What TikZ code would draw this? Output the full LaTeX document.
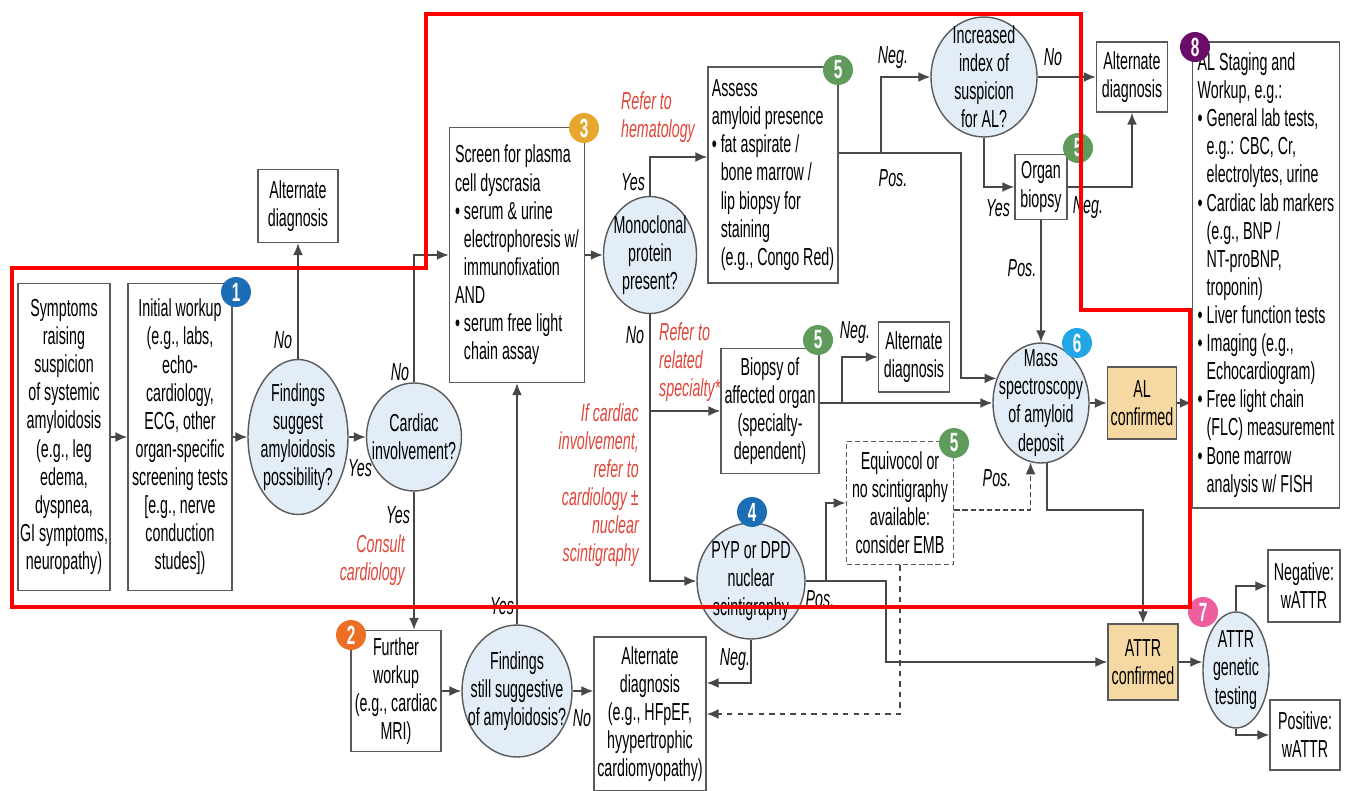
\documentclass[tikz,border=0pt]{standalone}
\usepackage{fontspec}
\setmainfont{Liberation Sans}[FakeStretch=0.58]
\usetikzlibrary{arrows.meta,shapes.geometric,calc}
\definecolor{edgegray}{HTML}{5A5A5A}
\definecolor{arrowgray}{HTML}{474747}
\definecolor{qblue}{HTML}{E3EDF7}
\definecolor{conftan}{HTML}{F6D9A2}
\definecolor{notered}{HTML}{E0453A}
\definecolor{framered}{HTML}{FF0000}
\definecolor{bdgblue}{HTML}{1B6DB6}
\definecolor{bdgorange}{HTML}{EC6F25}
\definecolor{bdggold}{HTML}{E5A82E}
\definecolor{bdggreen}{HTML}{5F9C5C}
\definecolor{bdgsky}{HTML}{22A6E4}
\definecolor{bdgpink}{HTML}{EC5E9E}
\definecolor{bdgpurple}{HTML}{6A0D69}
\newcommand{\bul}{\textbullet\ }
\newcommand{\ind}{\phantom{\textbullet\ }}

\begin{document}
\begin{tikzpicture}[x=0.02cm,y=-0.02cm,font=\fontsize{14}{16}\selectfont,
   box/.style={draw=edgegray,line width=0.8pt,fill=white,align=center,inner xsep=1pt,inner ysep=0.5pt},
   qell/.style={ellipse,draw=edgegray,line width=0.8pt,fill=qblue,align=center,inner sep=-1cm},
   conf/.style={box,fill=conftan},
   badge/.style={circle,fill=#1,text=white,font=\fontsize{15}{15}\selectfont\bfseries,
                 minimum size=0.6cm,inner sep=0pt},
   ans/.style={font=\fontsize{14}{16}\selectfont\itshape},
   note/.style={text=notered,font=\fontsize{14}{16}\selectfont\itshape},
   arr/.style={draw=arrowgray,line width=1pt,-{Latex[length=2.4mm,width=2mm]}},
   dashline/.style={dash pattern=on 3pt off 1.6pt}]
  \useasboundingbox (0,0) rectangle (1346,791);

  % first column
  \node[box,minimum width=1.84cm,minimum height=6.14cm] (symp) at (64,437)
       {Symptoms\\raising\\suspicion\\of systemic\\amyloidosis\\(e.g., leg\\edema,\\dyspnea,\\GI symptoms,\\neuropathy)};
  \node[box,minimum width=2.08cm,minimum height=6.14cm] (init) at (180,437)
       {Initial workup\\(e.g., labs,\\echo-\\cardiology,\\ECG, other\\organ-specific\\screening tests\\{[}e.g., nerve\\conduction\\studes{]})};
  \node[qell,minimum width=2.0cm,minimum height=3.1cm] (find1) at (298,437)
       {Findings\\suggest\\amyloidosis\\possibility?};
  \node[box,minimum width=1.6cm,minimum height=1.46cm] (alt1) at (298,206) {Alternate\\diagnosis};
  \node[qell,minimum width=1.9cm,minimum height=2.16cm] (card) at (414,437) {Cardiac\\involvement?};

  % plasma cell screen
  \node[box,align=left,minimum width=2.7cm,minimum height=5.1cm] (screen) at (517,255)
       {Screen for plasma\\cell dyscrasia\\\bul serum \& urine\\\ind electrophoresis w/\\\ind immunofixation\\AND\\\bul serum free light\\\ind chain assay};
  \node[qell,minimum width=1.86cm,minimum height=2.34cm] (mono) at (650,255) {Monoclonal\\protein\\present?};
  \node[box,align=left,minimum width=2.6cm,minimum height=4.32cm] (assess) at (773,175)
       {Assess\\amyloid presence\\\bul fat aspirate /\\\ind bone marrow /\\\ind lip biopsy for\\\ind staining\\\ind (e.g., Congo Red)};
  \node[qell,minimum width=2.12cm,minimum height=2.4cm] (incr) at (984,77) {Increased\\index of\\suspicion\\for AL?};
  \node[box,minimum width=1.42cm,minimum height=1.4cm] (alt2) at (1132,77) {Alternate\\diagnosis};
  \node[box,minimum width=1.04cm,minimum height=1.3cm] (organ) at (1041,187) {Organ\\biopsy};
  \node[box,align=left,minimum width=2.94cm,minimum height=9.32cm] (staging) at (1266,275)
       {AL Staging and\\Workup, e.g.:\\\bul General lab tests,\\\ind e.g.: CBC, Cr,\\\ind electrolytes, urine\\\bul Cardiac lab markers\\\ind (e.g., BNP /\\\ind NT-proBNP,\\\ind troponin)\\\bul Liver function tests\\\bul Imaging (e.g.,\\\ind Echocardiogram)\\\bul Free light chain\\\ind (FLC) measurement\\\bul Bone marrow\\\ind analysis w/ FISH};

  % middle rows
  \node[box,minimum width=1.96cm,minimum height=2.5cm] (biop) at (770,411)
       {Biopsy of\\affected organ\\(specialty-\\dependent)};
  \node[box,minimum width=1.42cm,minimum height=1.4cm] (alt3) at (914,357) {Alternate\\diagnosis};
  \node[box,dashline,line width=1pt,minimum width=2.14cm,minimum height=2.46cm] (equiv) at (900,503)
       {Equivocol or\\no scintigraphy\\available:\\consider EMB};
  \node[qell,minimum width=2.16cm,minimum height=2.32cm] (pyp) at (751,581) {PYP or DPD\\nuclear\\scintigraphy};
  \node[qell,minimum width=1.92cm,minimum height=2.4cm] (mass) at (1041,403)
       {Mass\\spectroscopy\\of amyloid\\deposit};
  \node[conf,minimum width=1.38cm,minimum height=1.44cm] (alc) at (1142,403) {AL\\confirmed};

  % bottom row
  \node[box,minimum width=1.8cm,minimum height=2.42cm] (further) at (396,691)
       {Further\\workup\\(e.g., cardiac\\MRI)};
  \node[qell,minimum width=2.2cm,minimum height=2.64cm] (find2) at (517,691)
       {Findings\\still suggestive\\of amyloidosis?};
  \node[box,minimum width=2.24cm,minimum height=3.08cm] (alt4) at (650,714)
       {Alternate\\diagnosis\\(e.g., HFpEF,\\hyypertrophic\\cardiomyopathy)};
  \node[conf,minimum width=1.4cm,minimum height=1.52cm] (attrc) at (1143,662) {ATTR\\confirmed};
  \node[qell,minimum width=1.32cm,minimum height=2.32cm] (gen) at (1236,670) {ATTR\\genetic\\testing};
  \node[box,minimum width=1.44cm,minimum height=1.44cm] (neg) at (1304,586) {Negative:\\wATTR};
  \node[box,minimum width=1.4cm,minimum height=1.4cm] (pos) at (1305,735) {Positive:\\wATTR};

  % junctions
  \coordinate (jA) at ($(assess.east)+(42,-22)$);
  \coordinate (jB) at ($(biop.east |- mass.west)+(22,0)$);
  \coordinate (jD) at ($(pyp.east)+(80,0)$);
  \coordinate (jE) at ($(pyp.east)+(20,0)$);

  % connectors
  \draw[arr] (symp) -- (init);
  \draw[arr] (init) -- (find1);
  \draw[arr] (find1) -- (card);
  \draw[arr] (find1.north) -- (alt1.south);
  \draw[arr] (card.north) |- (screen.west);
  \draw[arr] (card.south) -- (card.south |- further.north);
  \draw[arr] (further) -- (find2);
  \draw[arr] (find2.north) -- (find2.north |- screen.south);
  \draw[arr] (find2.east) -- (find2.east -| alt4.west);
  \draw[arr] (screen) -- (mono);
  \draw[arr] (mono.north) |- ([yshift=0.36cm]assess.west);
  \draw[arr] (mono.south) |- (biop.west);
  \draw[arr] (mono.south) |- (pyp.west);
  \draw[arr] ([yshift=0.44cm]assess.east) -- ++(122,0) |- (mass.151);
  \draw[arr] (jA) |- (incr.west);
  \draw[arr] (incr) -- (alt2);
  \draw[arr] (incr.south) |- (organ.west);
  \draw[arr] (organ.east) -| (alt2.south);
  \draw[arr] (organ.south) -- (mass.north);
  \draw[arr] (biop.east |- mass.west) -- (mass.west);
  \draw[arr] (jB) |- (alt3.west);
  \draw[arr] (mass) -- (alc);
  \draw[arr] (alc) -- (alc -| staging.west);
  \draw[arr] (mass.-84) -- ++(0,47) -| (attrc.north);
  \draw[arr,dashline] ([yshift=-0.14cm]equiv.east) -| (mass.-100);
  \draw[arr,dashed] (equiv.south) |- (alt4.east);
  \draw[arr] (pyp.east) -- (jD) |- (attrc.west);
  \draw[arr] (jE) |- (equiv.west);
  \draw[arr] (pyp.south) |- ([yshift=0.62cm]alt4.east);
  \draw[arr] (attrc.east) -- (attrc.east -| gen.west);
  \draw[arr] (gen.north) |- (neg.west);
  \draw[arr] (gen.south) |- (pos.west);

  % answers
  \node[ans] (a1) at (283,340) {No};
  \node[ans] (a2) at (360,468) {Yes};
  \node[ans] (a3) at (400,372) {No};
  \node[ans] (a4) at (398,515) {Yes};
  \node[ans] (a5) at (502,606) {Yes};
  \node[ans] (a6) at (582,718) {No};
  \node[ans] (a7) at (633,182) {Yes};
  \node[ans] (a8) at (635,335) {No};
  \node[ans] (a9) at (893,58) {Neg.};
  \node[ans] (a10) at (893,178) {Pos.};
  \node[ans] (a11) at (1053,57) {No};
  \node[ans] (a12) at (998,208) {Yes};
  \node[ans] (a13) at (1088,208) {Neg.};
  \node[ans] (a14) at (1022,268) {Pos.};
  \node[ans] (a15) at (855,333) {Neg.};
  \node[ans] (a16) at (997,478) {Pos.};
  \node[ans] (a17) at (820,599) {Pos.};
  \node[ans] (a18) at (735,660) {Neg.};

  % referral notes
  \node[note,align=right,anchor=east] (n1) at (411,560) {Consult\\cardiology};
  \node[note,align=left] (n2) at (658,117) {Refer to\\hematology};
  \node[note,align=left,anchor=west] (n3) at (653,362) {Refer to\\related\\specialty*};
  \node[note,align=right,anchor=east] (n4) at (645,485)
       {If cardiac\\involvement,\\refer to\\cardiology ±\\nuclear\\scintigraphy};

  % step badges
  \node[badge=bdgblue] (b1) at (236,292) {1};
  \node[badge=bdgorange] (b2) at (351,635) {2};
  \node[badge=bdggold] (b3) at (584,128) {3};
  \node[badge=bdgblue] (b4) at (752,512) {4};
  \node[badge=bdggreen] (b5a) at (838,70) {5};
  \node[badge=bdggreen] (b5b) at (1078,148) {5};
  \node[badge=bdggreen] (b5c) at (818,340) {5};
  \node[badge=bdggreen] (b5d) at (954,443) {5};
  \node[badge=bdgsky] (b6) at (1077,343) {6};
  \node[badge=bdgpink] (b7) at (1203,612) {7};
  \node[badge=bdgpurple] (b8) at (1195,47) {8};

  % highlight frame
  \draw[framered,line width=2.4pt] (12,268) -- (426,268) -- (426,14) -- (1081,14)
       -- (1081,310) -- (1190,310) -- (1190,607) -- (12,607) -- cycle;
\end{tikzpicture}
\end{document}
